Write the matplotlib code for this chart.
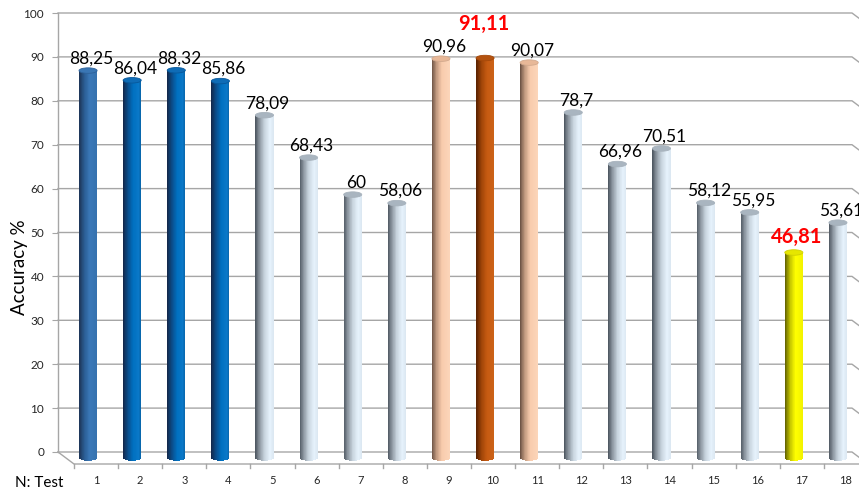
import matplotlib
matplotlib.use("Agg")
import matplotlib.pyplot as plt
import numpy as np
from matplotlib.collections import PolyCollection
from matplotlib.patches import Ellipse
from matplotlib.colors import to_rgb

# ---- data -------------------------------------------------------------
tests = [str(i) for i in range(1, 19)]
accuracy = [88.25, 86.04, 88.32, 85.86, 78.09, 68.43, 60, 58.06,
            90.96, 91.11, 90.07, 78.7, 66.96, 70.51, 58.12, 55.95,
            46.81, 53.61]
bar_style = ["steel", "blue", "blue", "blue", "silver", "silver", "silver",
             "silver", "peach", "orange", "peach", "silver", "silver",
             "silver", "silver", "silver", "yellow", "silver"]
highlight = {"91,11": 9, "46,81": 16}
y_ticks = list(range(0, 101, 10))

# ---- cylinder shading -------------------------------------------------
styles = {
    "steel": ([(0, "#1c3354"), (0.3, "#2b5d94"), (0.6, "#3a78b8"), (1, "#3672ae")], "#3a76b4"),
    "blue": ([(0, "#13284a"), (0.28, "#0a4f8e"), (0.55, "#0070c0"), (0.85, "#0a78c8"), (1, "#0862a6")], "#0f6cb6"),
    "silver": ([(0, "#4d5660"), (0.22, "#8a949e"), (0.5, "#c8d4de"), (0.8, "#e6f2fc"), (1, "#dbe7f1")], "#a9b5c0"),
    "peach": ([(0, "#6b5244"), (0.25, "#bf987e"), (0.55, "#f8cbac"), (1, "#fcd6ba")], "#e8b898"),
    "orange": ([(0, "#572000"), (0.3, "#9e4408"), (0.6, "#c55a11"), (1, "#cc6319")], "#b4520f"),
    "yellow": ([(0, "#5c5c00"), (0.3, "#c6c600"), (0.6, "#ffff00"), (1, "#f3f300")], "#e6e600"),
}


def gradient(stops, t):
    pos = np.array([s[0] for s in stops])
    cols = np.array([to_rgb(s[1]) for s in stops])
    return tuple(np.interp(t, pos, cols[:, c]) for c in range(3))


# ---- figure geometry --------------------------------------------------
W, H = 859, 493
fig = plt.figure(figsize=(W / 100, H / 100), dpi=100)
ax_l, ax_b, ax_w, ax_h = 58, 41, 794, 439
ax = fig.add_axes([ax_l / W, ax_b / H, ax_w / W, ax_h / H])
n = len(tests)
ax.set_xlim(-0.5, n - 0.5)
ax.set_ylim(0, 100)
px_x = ax_w / n          # pixels per category
px_y = ax_h / 100.0      # pixels per accuracy unit

depth_x, depth_y = 16 / px_x, -12 / px_y      # floor depth
half_x, half_y = depth_x / 2, depth_y / 2     # bars stand mid-depth

grid_col = "#a6a6a6"
for s in ax.spines.values():
    s.set_visible(False)
ax.set_xticks([])
ax.set_yticks(y_ticks)
ax.set_yticklabels([str(t) for t in y_ticks], fontsize=8.5, color="#262626",
                   family="Lato")
ax.tick_params(axis="y", length=4, width=0.8, color=grid_col, pad=6)

# back wall grid with the bend into the right side wall
x0, x1 = -0.5, n - 0.5
for t in y_ticks:
    ax.plot([x0, x1, x1 + depth_x], [t, t, t + depth_y], color=grid_col,
            lw=1, clip_on=False, zorder=1)
# vertical axis line
ax.plot([x0, x0], [0, 100], color=grid_col, lw=1, clip_on=False, zorder=1)
# floor edge and category ticks
ax.plot([x0, x0 + depth_x, x1 + depth_x], [0, depth_y, depth_y],
        color=grid_col, lw=1, clip_on=False, zorder=1)
for k in range(n + 1):
    xb = x0 + depth_x + k
    ax.plot([xb, xb], [depth_y, depth_y - 4 / px_y], color=grid_col, lw=1,
            clip_on=False, zorder=1)
for i, lab in enumerate(tests):
    ax.text(i + depth_x, depth_y - 17 / px_y, lab, ha="center", va="center",
            fontsize=8, family="Lato", color="#262626", clip_on=False)

# ---- cylinders ----------------------------------------------------------
bar_w = 0.41
cap_h = 5.5 / px_y
nslice = 48
for i, (v, st) in enumerate(zip(accuracy, bar_style)):
    stops, cap_col = styles[st]
    xc = i + half_x
    yb = half_y
    yt = v + half_y
    polys, cols = [], []
    for k in range(nslice):
        u0 = k / nslice
        u1 = (k + 1.6) / nslice
        u1 = min(u1, 1.0)
        um = (u0 + min((k + 1) / nslice, 1.0)) / 2
        xa = xc - bar_w / 2 + u0 * bar_w
        xb2 = xc - bar_w / 2 + u1 * bar_w
        r = 2 * um - 1
        ybot = yb - cap_h / 2 * np.sqrt(max(0.0, 1 - r * r))
        polys.append([(xa, ybot), (xb2, ybot), (xb2, yt), (xa, yt)])
        cols.append(gradient(stops, um))
    pc = PolyCollection(polys, facecolors=cols, edgecolors="none",
                        linewidths=0, clip_on=False, zorder=3)
    ax.add_collection(pc)
    cap = Ellipse((xc, yt), bar_w, cap_h, facecolor=cap_col,
                  edgecolor=gradient(stops, 0.35), lw=0.6, clip_on=False,
                  zorder=4)
    ax.add_patch(cap)

    label = f"{v:g}".replace(".", ",")
    if label in highlight:
        if v > 80:
            dx, dy = -1.5, 28.5
        else:
            dx, dy = 3, 9.5
        ax.text(xc + dx / px_x, yt + dy / px_y, label, ha="center",
                va="baseline", fontsize=14.5, fontweight="bold",
                color="#ff0000", family="Lato", clip_on=False, zorder=5)
    else:
        ax.text(xc + 3 / px_x, yt + 7 / px_y, label, ha="center",
                va="baseline", fontsize=12.5, color="#000000", family="Lato",
                clip_on=False, zorder=5)

# ---- axis titles --------------------------------------------------------
fig.text(19.5 / W, 1 - 267 / H, "Accuracy %", rotation=90, ha="center",
         va="center", fontsize=13.5, family="Lato", color="#000000")
fig.text(39 / W, 1 - 483 / H, "N: Test", ha="center", va="center",
         fontsize=11, family="Lato", color="#000000")

fig.savefig("out.png", dpi=100)
